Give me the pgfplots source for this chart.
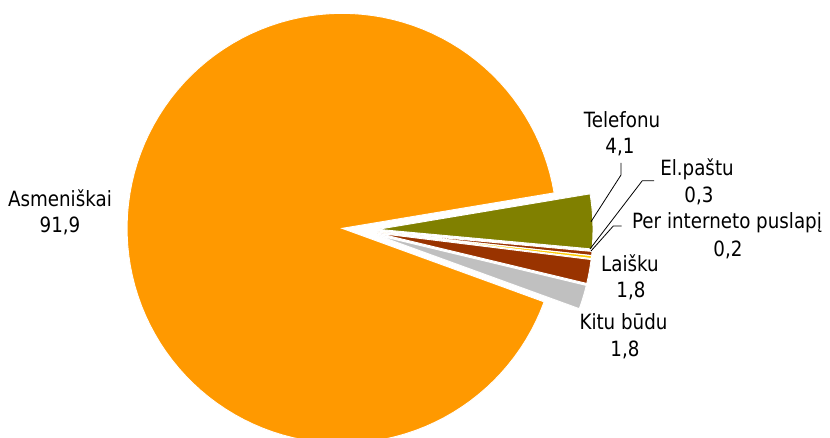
\documentclass[border=0pt]{standalone}
\usepackage{pgfplots}
\pgfplotsset{compat=1.18}
\usepackage{fontspec}
\setmainfont{DejaVu Sans}[FakeStretch=0.87]
\definecolor{cAsm}{HTML}{FF9900}
\definecolor{cTel}{HTML}{808000}
\definecolor{cEl}{HTML}{993300}
\definecolor{cPer}{HTML}{FFCC00}
\definecolor{cLai}{HTML}{993300}
\definecolor{cKit}{HTML}{C0C0C0}
\tikzset{lbl/.style={font=\fontsize{21bp}{26bp}\selectfont, inner sep=0pt, anchor=base}}
\begin{document}
\begin{tikzpicture}
% data values (percent)
\def\vAsm{91.9}\def\vTel{4.1}\def\vEl{0.3}\def\vPer{0.2}\def\vLai{1.8}\def\vKit{1.8}
\pgfmathsetmacro\tot{\vAsm+\vTel+\vEl+\vPer+\vLai+\vKit}
\def\startA{9.5}\def\rad{215}\def\expl{18}\def\Cx{360}\def\Cy{208}
% angles (clockwise order from start)
\pgfmathsetmacro\hTel{\startA}
\pgfmathsetmacro\lTel{\hTel-\vTel/\tot*360}
\pgfmathsetmacro\hEl{\lTel}
\pgfmathsetmacro\lEl{\hEl-\vEl/\tot*360}
\pgfmathsetmacro\hPer{\lEl}
\pgfmathsetmacro\lPer{\hPer-\vPer/\tot*360}
\pgfmathsetmacro\hLai{\lPer}
\pgfmathsetmacro\lLai{\hLai-\vLai/\tot*360}
\pgfmathsetmacro\hKit{\lLai}
\pgfmathsetmacro\lKit{\hKit-\vKit/\tot*360}
\pgfmathsetmacro\lAsm{\startA}
\pgfmathsetmacro\hAsm{\startA+\vAsm/\tot*360}
% exploded centres
\pgfmathsetmacro\xTel{\Cx+\expl*cos((\lTel+\hTel)/2)}\pgfmathsetmacro\yTel{\Cy+\expl*sin((\lTel+\hTel)/2)}
\pgfmathsetmacro\xEl{\Cx+\expl*cos((\lEl+\hEl)/2)}\pgfmathsetmacro\yEl{\Cy+\expl*sin((\lEl+\hEl)/2)}
\pgfmathsetmacro\xPer{\Cx+\expl*cos((\lPer+\hPer)/2)}\pgfmathsetmacro\yPer{\Cy+\expl*sin((\lPer+\hPer)/2)}
\pgfmathsetmacro\xLai{\Cx+\expl*cos((\lLai+\hLai)/2)}\pgfmathsetmacro\yLai{\Cy+\expl*sin((\lLai+\hLai)/2)}
\pgfmathsetmacro\xKit{\Cx+\expl*cos((\lKit+\hKit)/2)}\pgfmathsetmacro\yKit{\Cy+\expl*sin((\lKit+\hKit)/2)}
\pgfmathsetmacro\xAsm{\Cx+\expl*cos((\lAsm+\hAsm)/2)}\pgfmathsetmacro\yAsm{\Cy+\expl*sin((\lAsm+\hAsm)/2)}
\begin{axis}[
  width=830bp, height=438bp, scale only axis,
  xmin=0, xmax=830, ymin=0, ymax=438,
  hide axis, clip=true,
]
\addplot[fill=cAsm, draw=white, line width=0.9bp, domain=\lAsm:\hAsm, samples=120, variable=\t]
  ({\xAsm+\rad*cos(\t)},{\yAsm+\rad*sin(\t)}) -- (axis cs:\xAsm,\yAsm) -- cycle;
\addplot[fill=cTel, draw=white, line width=0.9bp, domain=\lTel:\hTel, samples=20, variable=\t]
  ({\xTel+\rad*cos(\t)},{\yTel+\rad*sin(\t)}) -- (axis cs:\xTel,\yTel) -- cycle;
\addplot[fill=cEl, draw=white, line width=0.9bp, domain=\lEl:\hEl, samples=5, variable=\t]
  ({\xEl+\rad*cos(\t)},{\yEl+\rad*sin(\t)}) -- (axis cs:\xEl,\yEl) -- cycle;
\addplot[fill=cPer, draw=white, line width=0.9bp, domain=\lPer:\hPer, samples=5, variable=\t]
  ({\xPer+\rad*cos(\t)},{\yPer+\rad*sin(\t)}) -- (axis cs:\xPer,\yPer) -- cycle;
\addplot[fill=cLai, draw=white, line width=0.9bp, domain=\lLai:\hLai, samples=10, variable=\t]
  ({\xLai+\rad*cos(\t)},{\yLai+\rad*sin(\t)}) -- (axis cs:\xLai,\yLai) -- cycle;
\addplot[fill=cKit, draw=white, line width=0.9bp, domain=\lKit:\hKit, samples=10, variable=\t]
  ({\xKit+\rad*cos(\t)},{\yKit+\rad*sin(\t)}) -- (axis cs:\xKit,\yKit) -- cycle;
% leader lines
\addplot[black, line width=0.8bp] coordinates {(621,275) (621,263) (591,216.3)};
\addplot[black, line width=0.8bp] coordinates {(654,257.3) (642.3,257.3) (590,189)};
\addplot[black, line width=0.8bp] coordinates {(621.7,212) (613.3,212) (591,187)};
% labels
\node[lbl] at (axis cs:60,231.3) {Asmeniškai};
\node[lbl] at (axis cs:60,205) {91,9};
\node[lbl] at (axis cs:622,310.3) {Telefonu};
\node[lbl] at (axis cs:620,284) {4,1};
\node[lbl] at (axis cs:697,262) {El.paštu};
\node[lbl] at (axis cs:699,235.3) {0,3};
\node[lbl] at (axis cs:727,209) {Per interneto puslapį};
\node[lbl] at (axis cs:728,181.3) {0,2};
\node[lbl] at (axis cs:630,166.3) {Laišku};
\node[lbl] at (axis cs:631,140) {1,8};
\node[lbl] at (axis cs:623.5,108) {Kitu būdu};
\node[lbl] at (axis cs:625,81.3) {1,8};
\end{axis}
\pgfresetboundingbox
\path[use as bounding box] (0,0) rectangle (830bp,438bp);
\end{tikzpicture}
\end{document}
